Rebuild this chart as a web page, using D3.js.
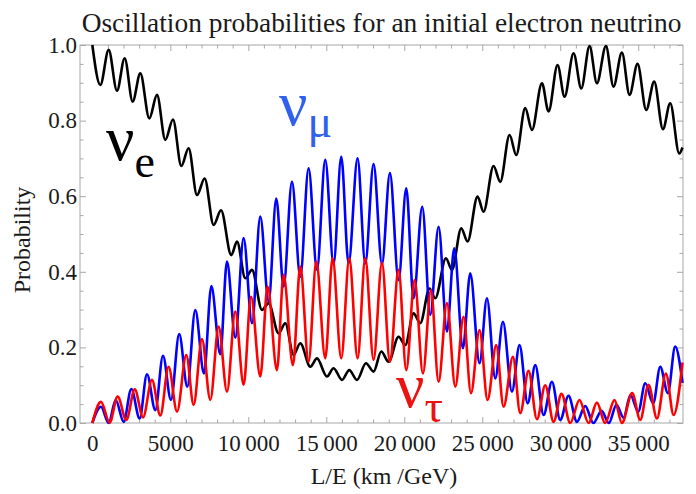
<!DOCTYPE html>
<meta charset="utf-8">
<style>
body {
  margin: 0;
  background: #fff;
}
text {
  font-family: "Liberation Serif", "DejaVu Serif", serif;
  fill: #1a1a1a;
}
.frame {
  fill: none;
  stroke: #a8a8a8;
  stroke-width: 1px;
}
.axis path {
  display: none;
}
.axis line {
  stroke: #a8a8a8;
}
.curve {
  fill: none;
  stroke-width: 2.6px;
  stroke-linejoin: round;
}
</style>
<body>
<script src="https://d3js.org/d3.v7.min.js"></script>
<script>

var width = 696,
    height = 494;

var margin = {top: 45, right: 13, bottom: 71, left: 80};

// tick values and labels
var xTicks = [0, 5000, 10000, 15000, 20000, 25000, 30000, 35000];
var xTickLabels = ["0", "5000", "10\u2009000", "15\u2009000", "20\u2009000", "25\u2009000", "30\u2009000", "35\u2009000"];
var yTicks = [0, 0.2, 0.4, 0.6, 0.8, 1.0];
var yTickLabels = ["0.0", "0.2", "0.4", "0.6", "0.8", "1.0"];

// nu_e : L/E of each turning point and its probability
var nueL = [0, 513, 1046, 1581, 2073, 2585, 3077, 3654, 4147, 4679, 5171, 5705, 6173, 6711, 7200, 7777,
  8250, 8910, 9275, 9808, 10237, 10878, 11301, 11942, 12371, 12903, 13333, 13974, 14403, 15044, 15467,
  16006, 16474, 16968, 17544, 18031, 18525, 18993, 19634, 20063, 20596, 21025, 21620, 21986, 22672,
  23057, 23653, 24057, 24698, 25083, 25724, 26153, 26750, 27178, 27755, 28185, 28825, 29250, 29827,
  30276, 30853, 31347, 31878, 32350, 32928, 33415, 33954, 34442, 34955, 35512, 36024, 36583, 37050,
  37627, 37838];
var nueP = [1.0, 0.894, 0.987, 0.879, 0.965, 0.850, 0.925, 0.806, 0.868, 0.749, 0.803, 0.680, 0.727, 0.603,
  0.647, 0.524, 0.563, 0.444, 0.480, 0.383, 0.405, 0.299, 0.317, 0.237, 0.264, 0.180, 0.211, 0.149, 0.171,
  0.123, 0.145, 0.114, 0.140, 0.114, 0.158, 0.136, 0.189, 0.162, 0.228, 0.206, 0.290, 0.264, 0.356, 0.330,
  0.436, 0.405, 0.515, 0.480, 0.599, 0.559, 0.680, 0.638, 0.762, 0.709, 0.833, 0.775, 0.899, 0.824, 0.947,
  0.863, 0.978, 0.885, 0.997, 0.899, 0.997, 0.890, 0.980, 0.868, 0.950, 0.828, 0.903, 0.777, 0.846, 0.713,
  0.729];

// nu_mu
var numuL = [0, 555, 1046, 1500, 2009, 2500, 3034, 3504, 4040, 4530, 5042, 5570, 6090, 6600, 7160, 7630,
  8205, 8633, 9166, 9700, 10237, 10770, 11301, 11795, 12262, 12800, 13333, 13865, 14403, 14935, 15467,
  15960, 16429, 17006, 17500, 18031, 18570, 19080, 19634, 20128, 20596, 21153, 21665, 22200, 22736,
  23205, 23762, 24230, 24826, 25300, 25833, 26325, 26903, 27390, 27910, 28400, 28930, 29465, 30000,
  30530, 31070, 31600, 32120, 32650, 33120, 33600, 34060, 34500, 35000, 35450, 35960, 36410, 36900,
  37370, 37838];
var numuP = [0, 0.043, 0.0, 0.061, 0.003, 0.090, 0.012, 0.129, 0.034, 0.178, 0.061, 0.235, 0.096, 0.299,
  0.131, 0.362, 0.182, 0.427, 0.226, 0.489, 0.264, 0.546, 0.321, 0.594, 0.361, 0.638, 0.387, 0.674, 0.405,
  0.696, 0.420, 0.704, 0.422, 0.700, 0.422, 0.685, 0.420, 0.661, 0.378, 0.621, 0.330, 0.572, 0.286, 0.519,
  0.242, 0.462, 0.198, 0.396, 0.158, 0.330, 0.118, 0.268, 0.083, 0.206, 0.052, 0.153, 0.021, 0.109, 0.008,
  0.072, 0.003, 0.045, 0.0, 0.032, 0.0, 0.048, 0.014, 0.074, 0.030, 0.105, 0.052, 0.149, 0.079, 0.202,
  0.106];

// nu_tau
var nutauL = [0, 555, 1110, 1624, 2180, 2720, 3250, 3825, 4360, 4890, 5430, 6025, 6494, 7030, 7564, 8100,
  8633, 9166, 9700, 10173, 10770, 11237, 11837, 12262, 12862, 13333, 13865, 14360, 14935, 15403, 15960,
  16474, 17006, 17500, 18031, 18570, 19080, 19634, 20128, 20660, 21198, 21710, 22200, 22736, 23270,
  23800, 24275, 24826, 25340, 25896, 26365, 26967, 27435, 27967, 28505, 29040, 29570, 30080, 30640,
  31230, 31815, 32350, 32880, 33480, 33955, 34610, 35128, 35660, 36200, 36775, 37267, 37838];
var nutauP = [0, 0.056, 0.001, 0.070, 0.008, 0.089, 0.015, 0.114, 0.020, 0.149, 0.030, 0.180, 0.048, 0.222,
  0.061, 0.255, 0.083, 0.295, 0.101, 0.334, 0.123, 0.361, 0.140, 0.392, 0.153, 0.414, 0.162, 0.427, 0.171,
  0.436, 0.171, 0.436, 0.171, 0.436, 0.167, 0.424, 0.162, 0.405, 0.140, 0.378, 0.131, 0.352, 0.109, 0.317,
  0.096, 0.281, 0.079, 0.246, 0.061, 0.206, 0.043, 0.175, 0.026, 0.138, 0.010, 0.100, 0.003, 0.077, 0.0,
  0.061, 0.0, 0.054, 0.0, 0.061, 0.0, 0.079, 0.008, 0.101, 0.012, 0.131, 0.021, 0.160];

var series = [
  {name: "e", L: nueL, P: nueP, color: "#000"},
  {name: "mu", L: numuL, P: numuP, color: "#0000ff"},
  {name: "tau", L: nutauL, P: nutauP, color: "#ff0000"}
];

var x = d3.scaleLinear()
    .domain([-790, 37870])
    .range([margin.left, width - margin.right]);

var y = d3.scaleLinear()
    .domain([0, 1])
    .range([height - margin.bottom, margin.top]);

var svg = d3.select("body").append("svg")
    .attr("width", width)
    .attr("height", height);

var x0 = margin.left, x1 = width - margin.right,
    y0 = margin.top, y1 = height - margin.bottom;

var xMinor = d3.range(0, 38000, 1000).filter(function(d) { return d % 5000; });
var yMinor = d3.range(0, 21).map(function(i) { return i / 20; }).filter(function(d, i) { return i % 4; });

// bottom
svg.append("g").attr("class", "axis")
    .attr("transform", "translate(0," + y1 + ")")
    .call(d3.axisBottom(x).tickValues(xMinor).tickSize(-3.5).tickFormat(""));
svg.append("g").attr("class", "axis xlab")
    .attr("transform", "translate(0," + y1 + ")")
    .call(d3.axisBottom(x).tickValues(xTicks).tickSize(-6).tickPadding(12)
      .tickFormat(function(d, i) { return xTickLabels[i]; }));
// top
svg.append("g").attr("class", "axis")
    .attr("transform", "translate(0," + y0 + ")")
    .call(d3.axisTop(x).tickValues(xMinor).tickSize(-3.5).tickFormat(""));
svg.append("g").attr("class", "axis")
    .attr("transform", "translate(0," + y0 + ")")
    .call(d3.axisTop(x).tickValues(xTicks).tickSize(-6).tickFormat(""));
// left
svg.append("g").attr("class", "axis")
    .attr("transform", "translate(" + x0 + ",0)")
    .call(d3.axisLeft(y).tickValues(yMinor).tickSize(-3.5).tickFormat(""));
svg.append("g").attr("class", "axis ylab")
    .attr("transform", "translate(" + x0 + ",0)")
    .call(d3.axisLeft(y).tickValues(yTicks).tickSize(-6).tickPadding(3)
      .tickFormat(function(d, i) { return yTickLabels[i]; }));
// right
svg.append("g").attr("class", "axis")
    .attr("transform", "translate(" + x1 + ",0)")
    .call(d3.axisRight(y).tickValues(yMinor).tickSize(-3.5).tickFormat(""));
svg.append("g").attr("class", "axis")
    .attr("transform", "translate(" + x1 + ",0)")
    .call(d3.axisRight(y).tickValues(yTicks).tickSize(-6).tickFormat(""));

svg.selectAll(".axis text")
    .attr("font-family", null)
    .style("font-size", "23px")
    .style("fill", "#1a1a1a");

svg.append("rect")
    .attr("class", "frame")
    .attr("x", x0)
    .attr("y", y0)
    .attr("width", x1 - x0)
    .attr("height", y1 - y0);

var line = d3.line()
    .x(function(d) { return x(d[0]); })
    .y(function(d) { return y(d[1]); })
    .curve(d3.curveMonotoneX);

svg.selectAll(".curve")
    .data(series)
  .enter().append("path")
    .attr("class", "curve")
    .attr("stroke", function(d) { return d.color; })
    .attr("d", function(d) { return line(d3.zip(d.L, d.P)); });

// title, sized to span the frame
var title = svg.append("text")
    .attr("x", (x0 + x1) / 2)
    .attr("y", 32)
    .attr("text-anchor", "middle")
    .style("font-size", "24px")
    .text("Oscillation probabilities for an initial electron neutrino");
var tw = title.node().getComputedTextLength();
title.style("font-size", (24 * 600 / tw).toFixed(2) + "px");

svg.append("text")
    .attr("x", 384)
    .attr("y", 484)
    .attr("text-anchor", "middle")
    .style("font-size", "24px")
    .text("L/E (km /GeV)");

svg.append("text")
    .attr("transform", "translate(30,240) rotate(-90)")
    .attr("text-anchor", "middle")
    .style("font-size", "24px")
    .text("Probability");

// curve labels
var labels = [
  {x: 106, y: 160, sub: "e", dy: 17, color: "#000"},
  {x: 279, y: 125, sub: "\u03bc", dy: 12, color: "#3060ee"},
  {x: 396, y: 407, sub: "\u03c4", dy: 15, color: "#ee1111"}
];

labels.forEach(function(l) {
  var t = svg.append("text")
      .attr("x", l.x)
      .attr("y", l.y)
      .style("fill", l.color);
  t.append("tspan")
      .style("font-size", "63px")
      .text("\u03bd");
  t.append("tspan")
      .attr("dy", l.dy)
      .style("font-size", "46px")
      .text(l.sub);
});

</script>
